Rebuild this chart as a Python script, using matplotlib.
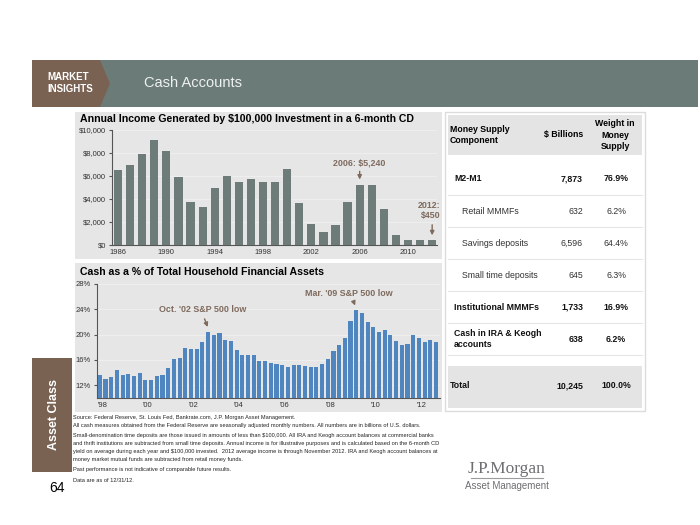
import numpy as np
import matplotlib
matplotlib.use('Agg')
import matplotlib.pyplot as plt
from matplotlib.patches import Rectangle, Polygon
from matplotlib.lines import Line2D

plt.rcParams['font.family'] = ['Liberation Sans', 'DejaVu Sans']

# ---- data ----
years = list(range(1986, 2013))
cd_income = [6500, 7000, 7950, 9100, 8150, 5950, 3750, 3300, 4950, 6000,
             5450, 5750, 5450, 5450, 6650, 3650, 1800, 1150, 1750, 3750,
             5240, 5240, 3100, 850, 420, 420, 450]
cd_tick_years = [1986, 1990, 1994, 1998, 2002, 2006, 2010]

# quarterly, 1998 onwards
cash_pct = [13.6, 13.05, 13.25, 14.4, 13.7, 13.8, 13.5, 14.0, 12.9, 12.9,
            13.5, 13.7, 14.7, 16.2, 16.35, 17.9, 17.75, 17.8, 18.9, 20.5,
            20.0, 20.3, 19.2, 19.0, 17.6, 16.8, 16.8, 16.8, 15.8, 15.8,
            15.55, 15.35, 15.2, 14.9, 15.2, 15.2, 15.0, 14.9, 14.9, 15.35,
            16.2, 17.45, 18.4, 19.5, 22.1, 23.9, 23.35, 21.95, 21.2, 20.5,
            20.8, 19.9, 19.0, 18.3, 18.6, 19.9, 19.5, 18.8, 19.1, 18.85]
cash_tick_labels = ["'98", "'00", "'02", "'04", "'06", "'08", "'10", "'12"]

components = ['M2-M1', 'Retail MMMFs', 'Savings deposits', 'Small time deposits',
              'Institutional MMMFs', 'Cash in IRA & Keogh\naccounts', 'Total']
billions = [7873, 632, 6596, 645, 1733, 638, 10245]
weights = [76.9, 6.2, 64.4, 6.3, 16.9, 6.2, 100.0]
row_bold = [True, False, False, False, True, True, True]
row_indent = [False, True, True, True, False, False, False]

notes = [
    "Source: Federal Reserve, St. Louis Fed, Bankrate.com, J.P. Morgan Asset Management.",
    "All cash measures obtained from the Federal Reserve are seasonally adjusted monthly numbers. All numbers are in billions of U.S. dollars.",
    "Small-denomination time deposits are those issued in amounts of less than $100,000. All IRA and Keogh account balances at commercial banks",
    "and thrift institutions are subtracted from small time deposits. Annual income is for illustrative purposes and is calculated based on the 6-month CD",
    "yield on average during each year and $100,000 invested.  2012 average income is through November 2012. IRA and Keogh account balances at",
    "money market mutual funds are subtracted from retail money funds.",
    "Past performance is not indicative of comparable future results.",
    "Data are as of 12/31/12.",
]

# ---- styling ----
W, H = 700, 525
slate = '#6b7b78'
brown = '#7a6253'
note_brown = '#7f6a5e'
panel_bg = '#e5e6e5'
bar_gray = '#6e7c79'
bar_blue = '#4f86c0'

fig = plt.figure(figsize=(7, 5.25), dpi=100)


def fx(x):
    return x / W


def fy(y):
    return 1 - y / H


def add_rect(x0, y0, x1, y1, color, **kw):
    fig.patches.append(Rectangle((fx(x0), fy(y1)), fx(x1) - fx(x0), fy(y0) - fy(y1),
                                 transform=fig.transFigure, facecolor=color,
                                 edgecolor=kw.pop('ec', 'none'), zorder=-10, **kw))


def add_line(x0, y0, x1, y1, color, lw=0.8):
    fig.lines.append(Line2D([fx(x0), fx(x1)], [fy(y0), fy(y1)],
                            transform=fig.transFigure, color=color, lw=lw, zorder=-5))


def axes_px(x0, y0, x1, y1):
    return fig.add_axes([fx(x0), fy(y1), fx(x1) - fx(x0), fy(y0) - fy(y1)])


# header band
add_rect(100, 60, 698, 107, slate)
fig.patches.append(Polygon([(fx(32), fy(60)), (fx(100), fy(60)), (fx(110), fy(83.5)),
                            (fx(100), fy(107)), (fx(32), fy(107))],
                           closed=True, transform=fig.transFigure, facecolor=brown,
                           edgecolor='none', zorder=-9))
fig.text(fx(47), fy(77), 'MARKET', color='white', fontsize=7, fontweight='bold', va='center')
fig.text(fx(47), fy(89), 'INSIGHTS', color='white', fontsize=7, fontweight='bold', va='center')
fig.text(fx(144), fy(83), 'Cash Accounts', color='#eef1f0', fontsize=10.5, va='center')

# side tab
add_rect(32, 358, 72, 472, brown)
fig.text(fx(54), fy(415), 'Asset Class', color='white', fontsize=9, fontweight='bold',
         rotation=90, ha='center', va='center')
fig.text(fx(57), fy(488), '64', color='black', fontsize=10, ha='center', va='center')

# chart panels
add_rect(75, 112, 442, 259, panel_bg)
add_rect(75, 263, 442, 412, panel_bg)

# ---- top chart ----
fig.text(fx(80), fy(119), 'Annual Income Generated by $100,000 Investment in a 6-month CD',
         fontsize=7.6, fontweight='bold', va='center')
ax1 = axes_px(112, 130, 437, 245)
ax1.set_facecolor('none')
x1 = np.arange(len(years))
ax1.bar(x1, cd_income, width=0.68, color=bar_gray, zorder=3)
ax1.set_xlim(-0.5, 26.4)
ax1.set_ylim(0, 10000)
ax1.set_yticks(np.arange(0, 10001, 2000))
ax1.set_yticklabels(['${:,}'.format(v) for v in range(0, 10001, 2000)])
ax1.set_xticks([years.index(y) for y in cd_tick_years])
ax1.set_xticklabels([str(y) for y in cd_tick_years])
ax1.tick_params(axis='y', labelsize=5.5, length=2.5, color='#555555', pad=2, labelcolor='#333333')
ax1.tick_params(axis='x', labelsize=5.5, length=0, pad=3, labelcolor='#333333')
for s in ['top', 'right']:
    ax1.spines[s].set_visible(False)
for s in ['left', 'bottom']:
    ax1.spines[s].set_color('#555555')
    ax1.spines[s].set_linewidth(0.8)
ax1.yaxis.grid(True, color='#f0f0f0', lw=0.6, zorder=0)

i06 = years.index(2006)
ax1.text(i06, 6750, '2006: $5,240', color=note_brown, fontsize=6.4, fontweight='bold',
         ha='center', va='bottom')
ax1.annotate('', xy=(i06, 5450), xytext=(i06, 6650),
             arrowprops=dict(arrowstyle='-|>', color=note_brown, lw=1.0, mutation_scale=6))
i12 = years.index(2012)
ax1.text(26.7, 2150, '2012:\n$450', color=note_brown, fontsize=6.4, fontweight='bold',
         ha='right', va='bottom', linespacing=1.2, clip_on=False)
ax1.annotate('', xy=(i12, 600), xytext=(i12, 2000),
             arrowprops=dict(arrowstyle='-|>', color=note_brown, lw=1.0, mutation_scale=6))

# ---- bottom chart ----
fig.text(fx(80), fy(272), 'Cash as a % of Total Household Financial Assets',
         fontsize=7.6, fontweight='bold', va='center')
ax2 = axes_px(97, 284, 440, 398)
ax2.set_facecolor('none')
x2 = np.arange(len(cash_pct))
ax2.bar(x2, cash_pct, width=0.72, color=bar_blue, zorder=3)
ax2.set_xlim(-0.5, 59.7)
ax2.set_ylim(10, 28)
ax2.set_yticks([12, 16, 20, 24, 28])
ax2.set_yticklabels(['12%', '16%', '20%', '24%', '28%'])
ax2.set_xticks([8 * k + 0.4 for k in range(len(cash_tick_labels))])
ax2.set_xticklabels(cash_tick_labels)
ax2.tick_params(axis='y', labelsize=5.5, length=2.5, color='#555555', pad=2, labelcolor='#333333')
ax2.tick_params(axis='x', labelsize=5.5, length=0, pad=3, labelcolor='#333333')
for s in ['top', 'right']:
    ax2.spines[s].set_visible(False)
for s in ['left', 'bottom']:
    ax2.spines[s].set_color('#555555')
    ax2.spines[s].set_linewidth(0.8)
ax2.yaxis.grid(True, color='#f0f0f0', lw=0.6, zorder=0)

ax2.text(18.0, 23.3, "Oct. '02 S&P 500 low", color=note_brown, fontsize=6.4, fontweight='bold',
         ha='center', va='bottom')
ax2.annotate('', xy=(19.1, 20.8), xytext=(18.2, 22.9),
             arrowprops=dict(arrowstyle='-|>', color=note_brown, lw=1.0, mutation_scale=6))
ax2.text(43.7, 25.75, "Mar. '09 S&P 500 low", color=note_brown, fontsize=6.4, fontweight='bold',
         ha='center', va='bottom')
ax2.annotate('', xy=(45.0, 24.2), xytext=(44.4, 25.5),
             arrowprops=dict(arrowstyle='-|>', color=note_brown, lw=1.0, mutation_scale=6))

# ---- table ----
add_rect(445, 112, 645, 411, 'white', ec='#dcdcdc', lw=1.0)
add_rect(448, 115, 642, 155, '#e4e4e4')
add_rect(448, 366, 642, 408, '#e4e4e4')
fig.text(fx(450), fy(135), 'Money Supply\nComponent', fontsize=6.3, fontweight='bold',
         va='center', linespacing=1.4)
fig.text(fx(583), fy(135), '$ Billions', fontsize=6.3, fontweight='bold', ha='right', va='center')
fig.text(fx(615), fy(135), 'Weight in\nMoney\nSupply', fontsize=6.3, fontweight='bold',
         ha='center', va='center', linespacing=1.4)

row_y = [179, 211, 243, 275, 307, 339, 386]
for sep in [195, 227, 259, 291, 323, 355]:
    add_line(448, sep, 642, sep, '#e6e6e6', lw=0.8)
for i, name in enumerate(components):
    wt = 'bold' if row_bold[i] else 'normal'
    xl = 462 if row_indent[i] else (450 if name == 'Total' else 454)
    col = '#111111' if row_bold[i] else '#333333'
    fig.text(fx(xl), fy(row_y[i]), name, fontsize=6.3, fontweight=wt, va='center',
             color=col, linespacing=1.4)
    fig.text(fx(583), fy(row_y[i]), '{:,}'.format(billions[i]), fontsize=6.3, fontweight=wt,
             ha='right', va='center', color=col)
    fig.text(fx(616), fy(row_y[i]), '{:.1f}%'.format(weights[i]), fontsize=6.3, fontweight=wt,
             ha='center', va='center', color=col)

# ---- footnotes ----
note_y = [417, 426, 435, 444, 452, 460, 470, 480]
for t, y in zip(notes, note_y):
    fig.text(fx(73), fy(y), t, fontsize=4.1, va='center', color='#222222')

# ---- logo ----
fig.text(fx(507), fy(469), 'J.P.Morgan', fontsize=12.5, color='#6d6e70', ha='center',
         va='center', family=['Liberation Serif', 'DejaVu Serif'])
add_line(471, 478, 543, 478, '#9a9b9d', lw=0.8)
fig.text(fx(507), fy(486), 'Asset Management', fontsize=7, color='#6d6e70', ha='center',
         va='center')

fig.savefig('out.png', dpi=100)
